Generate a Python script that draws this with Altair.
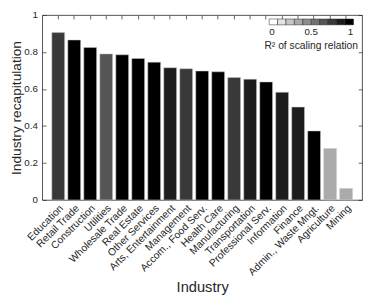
import altair as alt
import pandas as pd

industries = ["Education", "Retail Trade", "Construction", "Utilities", "Wholesale Trade",
              "Real Estate", "Other Services", "Arts, Entertainment", "Management",
              "Accom., Food Serv.", "Health Care", "Manufacturing", "Transportation",
              "Professional Serv.", "Information", "Finance", "Admin., Waste Mngt.",
              "Agriculture", "Mining"]
recap = [0.905, 0.865, 0.825, 0.790, 0.785, 0.765, 0.745, 0.715, 0.710, 0.697, 0.693,
         0.662, 0.653, 0.638, 0.582, 0.502, 0.373, 0.278, 0.062]
r2 = [0.75, 0.95, 0.95, 0.65, 0.95, 0.95, 0.95, 0.85, 0.75, 0.95, 0.95,
      0.75, 0.85, 0.95, 0.85, 0.85, 0.95, 0.35, 0.35]
grays = ["#ffffff", "#e3e3e3", "#c6c6c6", "#aaaaaa", "#8e8e8e",
         "#717171", "#555555", "#393939", "#1c1c1c", "#000000"]
r2_steps = [0, 0.1, 0.2, 0.3, 0.4, 0.5, 0.6, 0.7, 0.8, 0.9, 1]

df = pd.DataFrame({"industry": industries, "recap": recap, "r2": r2})

FONT = "Liberation Sans"
xscale = alt.Scale(paddingInner=0.2, paddingOuter=0.6)
yscale = alt.Scale(domain=[0, 1], nice=False)
yvals = [0, 0.2, 0.4, 0.6, 0.8, 1]

bars = alt.Chart(df).mark_bar(stroke="#c8c8c8", strokeWidth=0.5).encode(
    x=alt.X("industry:N", sort=industries, scale=xscale,
            axis=alt.Axis(orient="bottom", title="Industry", labelAngle=-45, ticks=False,
                          domain=False, labelPadding=3, labelFontSize=10.5,
                          titleFontSize=15, titlePadding=3,
                          titleFontWeight="normal", titleColor="#262626")),
    y=alt.Y("recap:Q", scale=yscale,
            axis=alt.Axis(orient="left", title="Industry recapitulation", values=yvals,
                          format="~g", domain=False, grid=False, offset=-4, tickSize=4,
                          labelPadding=5, titleFontSize=14, titlePadding=0,
                          titleFontWeight="normal", titleColor="#262626")),
    color=alt.Color("r2:Q",
                    scale=alt.Scale(type="quantize", domain=[0, 1], range=grays),
                    legend=alt.Legend(type="gradient", direction="horizontal", orient="none",
                                      legendX=227, legendY=4, gradientLength=86,
                                      gradientThickness=6, titleOrient="bottom",
                                      titleAnchor="middle", values=r2_steps,
                                      labelOverlap=False,
                                      labelExpr="(abs(datum.value) < 0.01 || abs(datum.value - 0.5) < 0.01 || abs(datum.value - 1) < 0.01) ? format(datum.value, '~g') : ''",
                                      labelFontSize=10, titleFontSize=10.5,
                                      titleFontWeight="normal", title="R² of scaling relation",
                                      titleColor="#262626", labelColor="#262626",
                                      labelFont=FONT, titleFont=FONT,
                                      gradientStrokeColor="#262626",
                                      gradientStrokeWidth=0.5)),
)

frame = alt.Chart(df).mark_bar(opacity=0).encode(
    x=alt.X("industry:N", sort=industries, scale=xscale,
            axis=alt.Axis(orient="top", labels=False, title=None, domain=False,
                          offset=-4, tickSize=4)),
    y=alt.Y("recap:Q", scale=yscale,
            axis=alt.Axis(orient="right", labels=False, title=None, domain=False, grid=False,
                          values=yvals, offset=-4, tickSize=4)),
)

chart = alt.layer(bars, frame).resolve_axis(x="independent", y="independent").properties(
    width=327, height=189,
    autosize=alt.AutoSizeParams(type="none"),
    padding={"left": 35, "top": 4, "right": 4, "bottom": 95},
).configure_view(stroke="#262626", strokeWidth=0.8).configure_axis(
    labelFont=FONT, titleFont=FONT, labelFontSize=10, labelColor="#262626",
    tickColor="#262626", tickWidth=0.7, grid=False
)

chart.save("out.html", embed_options={"renderer": "svg", "actions": False})
